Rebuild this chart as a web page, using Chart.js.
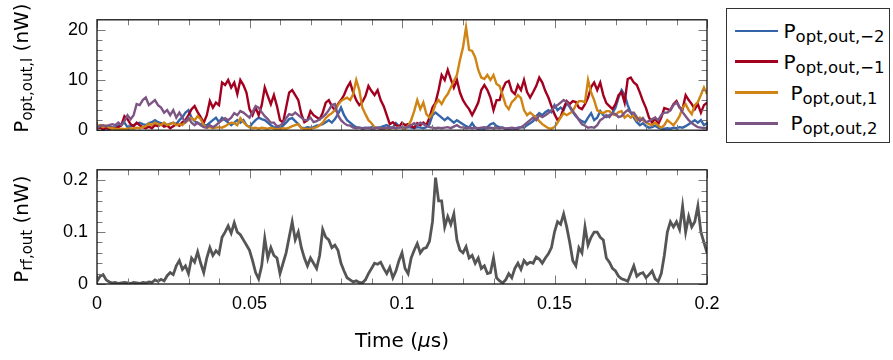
<!DOCTYPE html>
<html><head><meta charset="utf-8">
<script src="https://cdn.jsdelivr.net/npm/chart.js@4.4.1/dist/chart.umd.min.js"></script>
<style>
html,body{margin:0;padding:0;background:#fff;}
#wrap{position:relative;width:893px;height:360px;overflow:hidden;font-family:"DejaVu Sans",sans-serif;color:#000;background:#fff;}
canvas{position:absolute;left:0;}
.ytitle{position:absolute;white-space:nowrap;transform:translate(-50%,-50%) rotate(-90deg);font-size:20px;line-height:20px;}
sub{font-size:15px;vertical-align:-4px;line-height:0;}
#xtitle{position:absolute;white-space:nowrap;transform:translate(-50%,-50%);font-size:20px;line-height:20px;}
#legend{position:absolute;left:726px;top:8px;width:164px;height:135px;border:1.3px solid #333;box-sizing:border-box;}
.li{position:absolute;left:0;width:100%;height:0;}
.li .sw{position:absolute;left:8px;width:43px;height:2.5px;top:-1.25px;}
.li .tx{position:absolute;left:54px;right:2px;text-align:center;top:-10px;font-size:20px;line-height:20px;white-space:nowrap;}
.li .tx sub{font-size:16.5px;vertical-align:-4px;}
</style></head>
<body>
<div id="wrap">
  <canvas id="c1" width="720" height="150" style="top:0px"></canvas>
  <canvas id="c2" width="740" height="210" style="top:150px"></canvas>
  <div class="ytitle" style="left:20.5px;top:67.5px">P<sub>opt,out,l</sub> (nW)</div>
  <div class="ytitle" style="left:20.5px;top:228.5px">P<sub>rf,out</sub> (nW)</div>
  <div id="xtitle" style="left:402px;top:340px">Time (<i>μ</i>s)</div>
  <div id="legend"></div>
</div>
<script>
// ---- data (sampled every 0.001 µs, from 0 to 0.2 µs) ----
const timeStep = 0.001;
const seriesNames = ['opt,out,−2', 'opt,out,−1', 'opt,out,1', 'opt,out,2'];
const seriesColors = ['#3465a8', '#a3001f', '#cf8414', '#7c5584'];

const pOptM2 = [
0.6,1.0,0.7,0.5,0.8,0.5,0.6,0.9,1.2,1.5,
0.6,0.8,1.0,1.3,1.5,1.2,1.0,1.4,1.6,2.0,
1.6,1.4,1.2,1.0,1.3,1.5,1.2,2.0,2.6,3.5,
4.0,2.5,1.8,1.4,1.2,1.0,1.0,1.5,2.0,2.5,
1.6,2.5,2.0,1.5,1.0,1.5,2.0,1.5,2.0,1.0,
0.6,1.4,2.0,2.5,2.2,2.0,1.5,1.0,0.6,0.5,
0.5,0.9,1.5,2.2,2.4,1.8,1.2,0.5,0.4,0.6,
0.5,0.6,0.9,1.0,1.2,1.6,2.0,1.5,2.2,3.2,
4.5,3.0,2.0,1.5,1.0,0.6,0.5,0.4,0.5,0.4,
0.6,0.4,0.5,0.6,0.8,1.0,0.6,0.5,1.4,0.8,
0.5,0.4,0.6,0.5,0.4,0.6,0.5,0.4,0.6,1.2,
3.0,3.5,3.0,2.5,2.0,2.5,2.0,1.5,2.0,1.6,
1.2,0.8,0.5,1.4,0.5,0.3,0.4,0.3,0.6,1.2,
1.4,0.8,0.6,0.5,0.3,0.3,0.4,0.3,0.5,0.6,
0.5,1.0,1.4,1.8,2.8,3.4,3.0,3.6,4.0,3.6,
5.0,4.0,4.5,4.0,5.4,4.6,3.6,2.8,2.2,1.8,
1.5,2.5,3.4,2.0,2.5,3.8,3.0,2.6,3.0,3.4,
4.5,6.5,8.0,7.0,5.0,3.5,2.5,1.6,1.0,1.4,
0.8,0.5,0.6,0.9,0.5,0.3,0.3,0.4,0.3,0.5,
0.4,0.6,0.5,0.8,1.2,1.6,2.0,1.5,2.0,1.0,
1.4];

const pOptM1 = [
0.3,0.5,0.2,0.4,0.2,0.5,0.3,0.6,1.0,2.8,
2.2,1.2,0.8,1.5,1.0,0.6,0.4,0.7,0.4,1.0,
0.8,1.2,0.7,0.9,0.4,0.8,1.2,0.9,1.6,2.0,
3.0,4.2,4.8,3.6,2.6,1.5,3.0,5.8,4.5,5.5,
5.0,9.5,9.0,10.0,8.5,9.5,7.2,10.0,9.0,7.5,
4.2,3.0,4.5,3.0,5.0,8.5,6.8,5.2,7.0,4.8,
2.0,1.5,4.5,7.5,8.0,7.0,6.0,3.2,1.6,2.0,
3.8,3.0,2.6,2.2,3.5,5.5,6.0,4.8,4.0,5.2,
6.0,7.0,8.5,9.5,7.5,6.0,5.0,5.6,6.8,8.8,
7.8,7.0,8.0,6.0,4.8,3.0,1.2,1.6,1.0,0.6,
1.5,1.0,1.2,0.8,0.5,1.4,1.0,1.5,1.0,2.5,
4.5,5.5,8.0,11.0,10.0,12.0,10.2,8.5,10.0,7.5,
6.0,5.0,4.2,3.0,4.2,5.5,8.0,9.0,8.0,6.5,
4.0,6.0,6.0,8.2,9.5,9.8,7.8,7.2,9.0,8.0,
10.0,7.6,6.5,7.6,8.8,10.5,9.5,7.8,6.5,4.8,
3.2,2.0,2.6,4.4,5.8,5.2,5.8,5.6,4.5,4.2,
5.2,6.5,8.6,9.5,8.0,9.5,7.0,5.4,4.8,4.2,
5.2,7.0,7.6,5.5,10.2,10.5,9.5,9.0,7.5,5.8,
4.4,2.5,1.5,2.4,1.2,2.5,4.4,4.2,4.0,5.2,
5.8,4.5,4.2,7.0,6.0,5.2,4.2,5.2,3.5,5.0,
5.5];

const pOptP1 = [
0.8,1.0,0.6,0.9,0.5,0.4,0.3,0.2,0.3,0.2,
0.3,0.4,0.3,0.5,0.4,0.6,0.8,1.3,1.0,1.5,
1.2,1.0,1.5,1.0,1.2,1.5,1.0,1.2,1.0,1.6,
2.0,2.4,2.0,2.8,2.2,1.0,0.5,0.6,0.4,0.5,
0.6,0.5,0.8,1.2,1.5,1.4,1.0,2.4,1.6,1.0,
0.6,0.4,0.5,0.3,0.5,0.4,0.3,0.5,0.3,0.2,
0.3,0.4,0.3,0.5,0.8,1.0,1.2,0.4,0.3,0.2,
0.3,0.4,0.6,1.0,1.5,2.4,3.0,3.4,4.0,5.0,
5.8,6.2,6.5,6.0,7.2,10.0,8.0,4.5,3.2,2.0,
1.4,0.6,0.4,0.3,0.2,0.4,0.3,0.5,0.4,0.6,
0.5,0.3,0.8,2.0,3.8,6.0,4.2,5.5,3.2,2.5,
3.4,5.2,6.0,5.2,6.4,7.2,8.5,9.8,11.0,14.0,
16.5,20.5,16.0,15.8,14.5,12.0,10.5,10.2,11.0,10.0,
11.0,9.2,8.8,7.0,5.0,4.2,5.6,6.2,7.0,6.4,
4.0,3.0,3.5,3.0,2.6,1.8,1.2,0.8,0.4,0.3,
0.6,1.5,2.5,3.4,3.0,3.4,3.8,5.0,5.8,5.8,
5.6,10.0,7.5,6.0,4.0,3.6,3.4,3.8,3.8,3.2,
3.0,3.6,3.8,2.5,3.0,2.5,3.0,2.0,2.5,2.0,
1.6,1.2,1.0,1.5,0.9,0.5,1.0,2.0,1.5,1.0,
1.8,2.8,4.5,5.2,4.0,3.2,5.0,5.6,7.0,8.5,
7.2];

const pOptP2 = [
0.5,0.8,1.0,0.8,1.0,1.2,1.0,1.5,1.0,1.8,
3.0,2.2,3.0,5.2,5.0,6.0,6.5,5.0,5.5,6.0,
5.0,4.5,3.5,4.0,3.0,4.0,2.5,3.5,2.5,1.6,
2.5,1.5,1.0,1.5,1.0,0.6,0.5,1.0,0.6,1.0,
1.5,2.0,2.4,2.0,2.5,3.4,3.0,3.8,3.5,3.0,
2.5,3.6,4.8,4.5,3.6,2.8,2.2,1.5,1.5,0.8,
0.9,1.4,2.4,3.2,3.0,3.5,3.0,2.5,2.0,2.0,
2.5,1.6,1.8,2.2,2.6,3.2,4.0,5.0,5.2,3.0,
2.0,1.4,1.0,0.9,0.5,0.4,0.5,0.3,0.4,0.5,
0.3,0.4,0.5,0.3,0.4,0.5,0.4,0.5,0.4,0.5,
0.6,0.5,0.7,1.0,1.4,1.0,1.5,1.2,0.9,0.6,
0.5,0.4,0.5,0.4,0.5,0.6,0.4,0.7,1.0,0.6,
0.5,0.4,0.5,0.4,0.5,0.4,0.5,0.6,0.4,0.5,
0.4,0.5,0.4,0.5,0.3,0.4,0.5,0.4,0.3,0.6,
1.0,1.5,2.0,2.5,2.0,3.0,2.6,3.0,3.4,4.0,
4.6,5.0,5.5,6.0,5.6,4.8,3.8,3.0,2.0,1.2,
0.9,0.5,0.6,0.5,1.0,2.0,2.4,3.0,2.6,3.4,
3.2,2.6,2.8,3.5,4.0,3.5,3.5,2.6,1.8,2.4,
1.6,1.8,2.2,2.5,2.0,3.0,3.5,3.5,4.0,5.0,
5.5,4.6,3.6,2.8,2.0,1.4,1.0,0.6,0.5,0.4,
0.5];

const pRfOut = [
0.005,0.015,0.018,0.008,0.004,0.002,0.003,0.001,0.002,0.003,
0.002,0.001,0.003,0.002,0.001,0.003,0.002,0.004,0.003,0.008,
0.005,0.009,0.006,0.016,0.022,0.018,0.035,0.045,0.028,0.035,
0.02,0.05,0.042,0.062,0.04,0.022,0.05,0.07,0.055,0.064,
0.058,0.09,0.1,0.112,0.098,0.118,0.1,0.095,0.085,0.075,
0.065,0.045,0.022,0.01,0.035,0.088,0.05,0.07,0.055,0.05,
0.02,0.04,0.06,0.09,0.12,0.085,0.1,0.07,0.05,0.035,
0.05,0.04,0.03,0.055,0.105,0.09,0.085,0.07,0.075,0.065,
0.04,0.025,0.012,0.008,0.004,0.006,0.003,0.002,0.008,0.02,
0.03,0.04,0.038,0.042,0.03,0.02,0.032,0.012,0.025,0.045,
0.06,0.03,0.02,0.05,0.065,0.078,0.06,0.068,0.07,0.082,
0.12,0.205,0.16,0.16,0.11,0.13,0.115,0.135,0.085,0.065,
0.06,0.072,0.05,0.055,0.04,0.05,0.03,0.035,0.02,0.022,
0.05,0.012,0.006,0.002,0.008,0.02,0.012,0.03,0.04,0.028,
0.045,0.038,0.042,0.04,0.052,0.048,0.04,0.05,0.058,0.07,
0.1,0.12,0.115,0.135,0.11,0.08,0.045,0.035,0.07,0.06,
0.11,0.075,0.09,0.1,0.1,0.09,0.085,0.05,0.042,0.03,
0.025,0.015,0.01,0.008,0.005,0.02,0.035,0.015,0.02,0.022,
0.012,0.018,0.025,0.01,0.005,0.02,0.055,0.1,0.12,0.11,
0.12,0.105,0.15,0.1,0.13,0.11,0.12,0.15,0.1,0.08,
0.06];

// tick labels / tick positions
const xTickLabels = [0, 0.05, 0.1, 0.15, 0.2];
const xMinorTicks = [0,0.01,0.02,0.03,0.04,0.05,0.06,0.07,0.08,0.09,0.1,0.11,0.12,0.13,0.14,0.15,0.16,0.17,0.18,0.19,0.2];
const yTopTickLabels = [0, 10, 20];
const yTopMinorTicks = [0,2,4,6,8,10,12,14,16,18,20];
const yBotTickLabels = [0, 0.1, 0.2];
const yBotMinorTicks = [0,0.02,0.04,0.06,0.08,0.1,0.12,0.14,0.16,0.18,0.2];

// ---- build ----
const toXY = arr => arr.map((v, i) => ({x: +(i * timeStep).toFixed(3), y: v}));
const FONT = "'Liberation Sans', Arial, sans-serif";

const frameTicks = {
  id: 'frameTicks',
  afterDatasetsDraw(chart, args, o) {
    const {ctx, chartArea: a, scales: {x, y}} = chart;
    ctx.save();
    ctx.strokeStyle = '#7a7a7a';
    ctx.lineWidth = 1;
    ctx.beginPath();
    o.xMinor.forEach(v => {
      const px = Math.round(x.getPixelForValue(v)) + 0.5;
      const L = o.xMajor.some(m => Math.abs(m - v) < 1e-9) ? 8.5 : 5.5;
      ctx.moveTo(px, a.bottom); ctx.lineTo(px, a.bottom - L);
      ctx.moveTo(px, a.top); ctx.lineTo(px, a.top + L);
    });
    o.yMinor.forEach(v => {
      const py = Math.round(y.getPixelForValue(v)) + 0.5;
      const L = o.yMajor.some(m => Math.abs(m - v) < 1e-9) ? 8.5 : 5.5;
      ctx.moveTo(a.left, py); ctx.lineTo(a.left + L, py);
      ctx.moveTo(a.right, py); ctx.lineTo(a.right - L, py);
    });
    ctx.stroke();
    ctx.strokeStyle = '#111';
    ctx.lineWidth = 1.3;
    ctx.strokeRect(a.left, a.top, a.right - a.left, a.bottom - a.top);
    ctx.restore();
  }
};

function yScale(max, labels, fmt) {
  return {
    type: 'linear', min: 0, max: max,
    grid: {display: false, drawTicks: false}, border: {display: false},
    afterBuildTicks: s => { s.ticks = labels.map(v => ({value: v})); },
    afterFit: s => { s.width = 97; },
    ticks: {color: '#000', padding: 9, font: {family: FONT, size: 18}, callback: fmt}
  };
}

const topSeries = [pOptM2, pOptM1, pOptP1, pOptP2];
new Chart(document.getElementById('c1'), {
  type: 'line',
  data: {
    datasets: topSeries.map((arr, i) => ({
      label: 'P_' + seriesNames[i],
      data: toXY(arr),
      borderColor: seriesColors[i],
      borderWidth: 2.4,
      pointRadius: 0,
      tension: 0,
      order: 4 - i
    }))
  },
  options: {
    responsive: false, animation: false, devicePixelRatio: 1,
    layout: {padding: {left: 0, right: 13, top: 8, bottom: 0}},
    plugins: {legend: {display: false}, tooltip: {enabled: false},
      frameTicks: {xMinor: xMinorTicks, xMajor: xTickLabels, yMinor: yTopMinorTicks, yMajor: yTopTickLabels}},
    scales: {
      x: {type: 'linear', min: 0, max: 0.2, display: true,
          grid: {display: false, drawTicks: false}, border: {display: false},
          ticks: {display: false},
          afterFit: s => { s.height = 7; }},
      y: yScale(22, yTopTickLabels, v => String(v))
    }
  },
  plugins: [frameTicks]
});

new Chart(document.getElementById('c2'), {
  type: 'line',
  data: {
    datasets: [{
      label: 'P_rf,out',
      data: toXY(pRfOut),
      borderColor: '#555555',
      borderWidth: 2.8,
      pointRadius: 0,
      tension: 0
    }]
  },
  options: {
    responsive: false, animation: false, devicePixelRatio: 1,
    layout: {padding: {left: 0, right: 33, top: 12, bottom: 0}},
    plugins: {legend: {display: false}, tooltip: {enabled: false},
      frameTicks: {xMinor: xMinorTicks, xMajor: xTickLabels, yMinor: yBotMinorTicks, yMajor: yBotTickLabels}},
    scales: {
      x: {type: 'linear', min: 0, max: 0.2,
          grid: {display: false, drawTicks: false}, border: {display: false},
          afterBuildTicks: s => { s.ticks = xTickLabels.map(v => ({value: v})); },
          afterFit: s => { s.height = 76; },
          ticks: {color: '#000', padding: 9, maxRotation: 0, font: {family: FONT, size: 18},
                  callback: v => String(v)}},
      y: yScale(0.22, yBotTickLabels, v => String(v))
    }
  },
  plugins: [frameTicks]
});

// legend (HTML, with subscripts)
const lg = document.getElementById('legend');
const rows = [22, 52.7, 83.7, 114.3];
seriesNames.forEach((n, i) => {
  const d = document.createElement('div');
  d.className = 'li';
  d.style.top = rows[i] + 'px';
  d.innerHTML = '<div class="sw" style="background:' + seriesColors[i] + '"></div>' +
                '<div class="tx">P<sub>' + n + '</sub></div>';
  lg.appendChild(d);
});
</script>
</body></html>
